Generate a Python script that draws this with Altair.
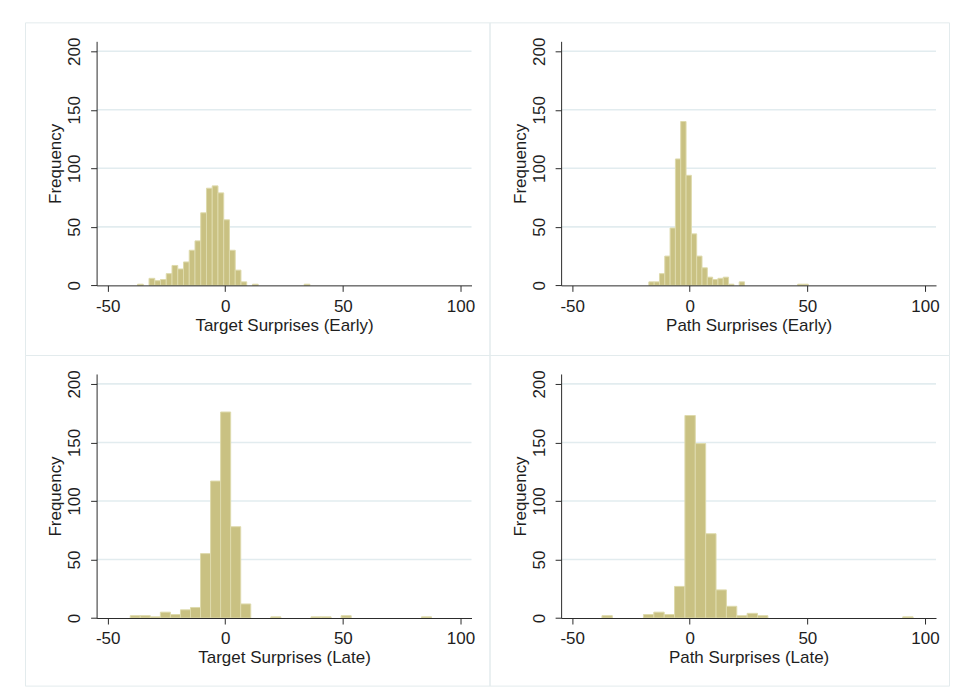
import altair as alt
import pandas as pd

# ---- data: histogram bins (left edge of first bin, bin width, counts) ----
te_title = "Target Surprises (Early)"
te_start, te_width = -37.3, 2.443
te_counts = [1, 0, 6, 4, 5, 10, 17, 14, 20, 30, 38, 62, 83, 85, 79, 56, 30, 13, 3,
             0, 1, 0, 0, 0, 0, 0, 0, 0, 0, 1]

pe_title = "Path Surprises (Early)"
pe_start, pe_width = -17.4, 2.26
pe_counts = [3, 3, 10, 25, 49, 108, 140, 94, 44, 25, 15, 7, 5, 6, 7, 1, 0, 3,
             0, 0, 0, 0, 0, 0, 0, 0, 0, 0, 1, 1]

tl_title = "Target Surprises (Late)"
tl_start, tl_width = -40.4, 4.27
tl_counts = [2, 2, 1, 5, 3, 7, 9, 55, 117, 176, 78, 12, 0, 0, 1, 0, 0, 0, 1, 1,
             0, 2, 0, 0, 0, 0, 0, 0, 0, 1]

pl_title = "Path Surprises (Late)"
pl_start, pl_width = -37.34, 4.41
pl_counts = [2, 0, 0, 0, 3, 5, 3, 27, 173, 149, 72, 24, 10, 2, 4, 2,
             0, 0, 0, 0, 0, 0, 0, 0, 0, 0, 0, 0, 0, 1]

x_ticks = [-50, 0, 50, 100]
y_ticks = [0, 50, 100, 150, 200]
grid_values = [50, 100, 150, 200]
x_domain = [-54.7, 104.7]
y_domain = [0, 208.5]

# ---- layout / style ----
X_RANGE = [71.7, 447.0]
Y0 = 263.3
Y_RANGE = [Y0, 19.0]
FONT = "Liberation Sans"
AXIS_COLOR = "#2b2b2b"
TEXT_COLOR = "#1e1e1e"
GRID_COLOR = "#E2ECEF"
FRAME_COLOR = "#E3EBED"
BAR_FILL = "#C9C182"
BAR_STROKE = "#DEDAAC"


def panel(start, width, counts, title, pw, ph):
    df = pd.DataFrame({"lo": [start + i * width for i in range(len(counts))],
                       "count": counts})
    df["hi"] = df["lo"] + width
    df["base"] = 0
    df = df[df["count"] > 0]

    grid_df = pd.DataFrame({"g": grid_values,
                            "x0": [x_domain[0]] * len(grid_values),
                            "x1": [x_domain[1]] * len(grid_values)})

    xs = alt.Scale(domain=x_domain, range=X_RANGE, nice=False, zero=False)
    ys = alt.Scale(domain=y_domain, range=Y_RANGE, nice=False, zero=False)

    xaxis = alt.Axis(values=x_ticks, offset=Y0 - ph, grid=False,
                     tickSize=6, tickColor=AXIS_COLOR, domainColor=AXIS_COLOR,
                     labelFont=FONT, labelFontSize=17, labelColor=TEXT_COLOR,
                     labelPadding=7, labelFlush=False, labelOverlap=False,
                     labelExpr="datum.value + ''",
                     title=title, titleFont=FONT, titleFontSize=17,
                     titleFontWeight="normal", titleColor=TEXT_COLOR,
                     titleBaseline="alphabetic", titleY=45, zindex=1)
    yaxis = alt.Axis(values=y_ticks, offset=-X_RANGE[0], grid=False,
                     tickSize=6, tickColor=AXIS_COLOR, domainColor=AXIS_COLOR,
                     labelFont=FONT, labelFontSize=17, labelColor=TEXT_COLOR,
                     labelAngle=270, labelAlign="center", labelBaseline="bottom",
                     labelPadding=7, labelFlush=False, labelOverlap=False,
                     title="Frequency", titleFont=FONT, titleFontSize=17,
                     titleFontWeight="normal", titleColor=TEXT_COLOR,
                     titleAngle=270, titleAlign="center",
                     titleBaseline="alphabetic", titleX=-36, zindex=1)

    grid = alt.Chart(grid_df).mark_rule(color=GRID_COLOR, strokeWidth=1.6).encode(
        x=alt.X("x0:Q", scale=xs, axis=xaxis),
        x2="x1:Q",
        y=alt.Y("g:Q", scale=ys, axis=yaxis),
    )
    bars = alt.Chart(df).mark_rect(fill=BAR_FILL, stroke=BAR_STROKE, strokeWidth=1).encode(
        x=alt.X("lo:Q", scale=xs, axis=xaxis),
        x2="hi:Q",
        y=alt.Y("count:Q", scale=ys, axis=yaxis),
        y2="base:Q",
    )
    return alt.layer(grid, bars).properties(width=pw, height=ph)


chart = alt.concat(
    panel(te_start, te_width, te_counts, te_title, 465, 333),
    panel(pe_start, pe_width, pe_counts, pe_title, 460, 333),
    panel(tl_start, tl_width, tl_counts, tl_title, 465, 331),
    panel(pl_start, pl_width, pl_counts, pl_title, 460, 331),
    columns=2, spacing=0, bounds="flush",
).resolve_scale(x="independent", y="independent").properties(
    padding={"left": 16, "top": 13, "right": 0, "bottom": 0},
    background="white",
).configure_view(stroke=FRAME_COLOR, strokeWidth=1)

chart.save("out.html", embed_options={"renderer": "svg", "actions": False})
